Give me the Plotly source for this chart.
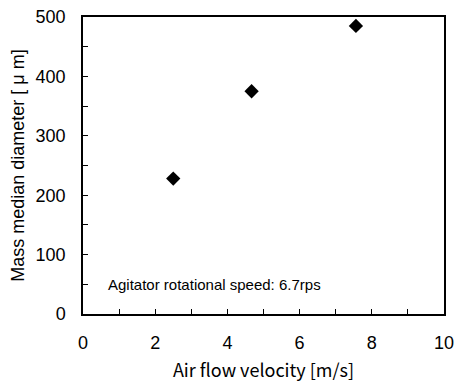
import plotly.graph_objects as go

air_velocity = [2.5, 4.67, 7.56]
mass_median_diameter = [228, 375, 485]

fig = go.Figure()
fig.add_trace(go.Scatter(
    x=air_velocity, y=mass_median_diameter, mode="markers",
    marker=dict(symbol="diamond", size=11, color="black"),
    showlegend=False,
))

axis_common = dict(
    showgrid=False, zeroline=False, showline=True, linecolor="black", linewidth=1.5,
    mirror=True, ticks="inside", tickcolor="black", ticklen=5, tickwidth=1,
    automargin=False,
    tickfont=dict(family="Liberation Sans", size=18, color="black"),
)
fig.update_xaxes(
    range=[0, 10], **axis_common,
    tickvals=list(range(0, 11)),
    ticktext=[str(v) if v % 2 == 0 else "" for v in range(0, 11)],
    ticklabelstandoff=12,
    title=dict(text="Air flow velocity [m/s]", font=dict(family="Noto Sans CJK JP", size=18, color="black"), standoff=18),
)
fig.update_yaxes(
    range=[0, 500], **axis_common,
    tickvals=list(range(0, 501, 50)),
    ticktext=[str(v) if v % 100 == 0 else "" for v in range(0, 501, 50)],
    ticklabelstandoff=12,
    title=dict(text="Mass median diameter [ μ m]", font=dict(family="Liberation Sans", size=18, color="black"), standoff=6),
)
fig.add_annotation(
    x=0.063, y=0.1, xref="paper", yref="paper", xanchor="left", yanchor="middle",
    text="Agitator rotational speed: 6.7rps", showarrow=False,
    font=dict(family="Liberation Sans", size=15, color="black"),
)
fig.update_layout(
    width=455, height=382, margin=dict(l=83, r=11, t=17, b=68),
    paper_bgcolor="white", plot_bgcolor="white",
)
fig.write_html("out.html")
